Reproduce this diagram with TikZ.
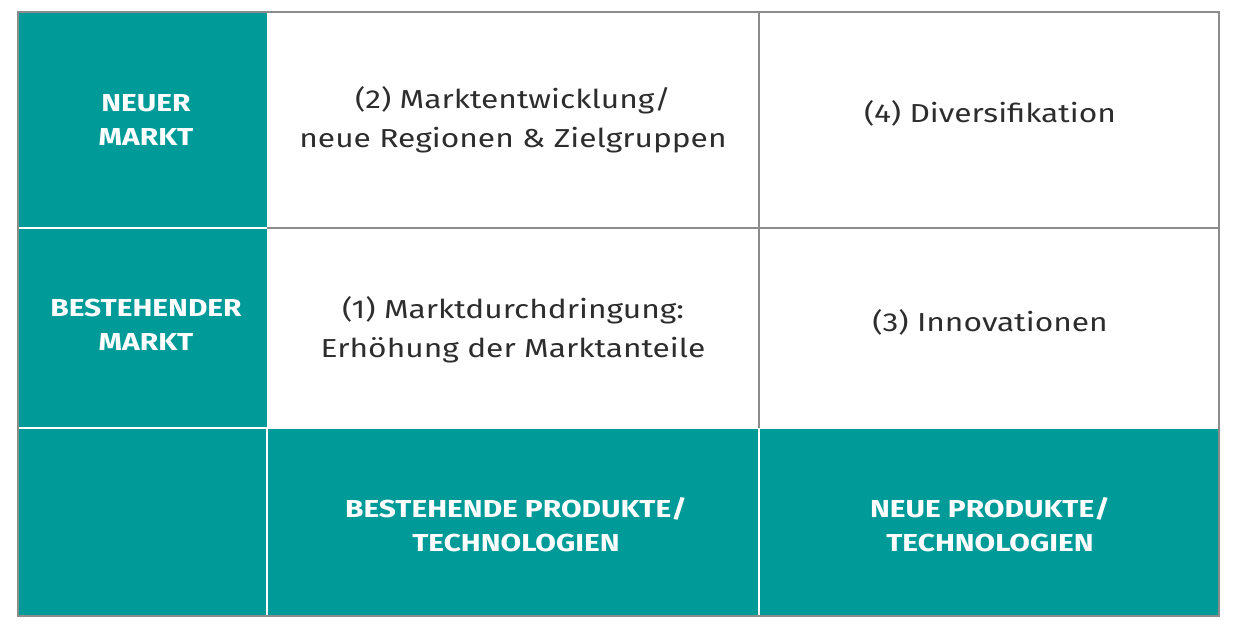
\documentclass[tikz,border=0pt]{standalone}
\usepackage{fontspec}
\setmainfont{Fira Sans}[FakeStretch=1.22]
\definecolor{teal1}{RGB}{0,155,152}
\definecolor{gridgray}{RGB}{140,140,140}
\definecolor{txt}{RGB}{45,45,45}
\begin{document}
\begin{tikzpicture}[x=1pt,y=-1pt,
  celltext/.style={align=center,text=txt,font=\fontsize{26}{38.5}\selectfont},
  headtext/.style={align=center,text=white,font=\fontsize{24.5}{34}\selectfont\bfseries},
  whiteline/.style={draw=white,line width=2pt},
  grayline/.style={draw=gridgray,line width=1.6pt}]
\useasboundingbox (0,0) rectangle (1238,626);
% teal areas
\fill[teal1] (18,12) rectangle (267,616);
\fill[teal1] (267,428) rectangle (1219,616);
% internal lines
\draw[whiteline] (18,228) -- (267,228);
\draw[whiteline] (18,428) -- (1219,428);
\draw[whiteline] (267,428) -- (267,616);
\draw[whiteline] (759,428) -- (759,616);
\draw[grayline] (267,228) -- (1219,228);
\draw[grayline] (759,12) -- (759,428);
% outer border
\draw[draw=gridgray,line width=2pt] (18,12) rectangle (1219,616);
% texts
\node[headtext] (nm) at (146,120) {NEUER\\MARKT};
\node[headtext] (bm) at (146,325) {BESTEHENDER\\MARKT};
\node[celltext] (c2) at (513,120) {(2) Marktentwicklung/\\neue Regionen \& Zielgruppen};
\node[celltext] (c4) at (990,113) {(4) Diversifikation};
\node[celltext] (c1) at (513,330) {(1) Marktdurchdringung:\\Erhöhung der Marktanteile};
\node[celltext] (c3) at (990,322) {(3) Innovationen};
\node[headtext] (bp) at (516,525) {BESTEHENDE PRODUKTE/\\TECHNOLOGIEN};
\node[headtext] (np) at (990,525) {NEUE PRODUKTE/\\TECHNOLOGIEN};
\end{tikzpicture}
\end{document}
